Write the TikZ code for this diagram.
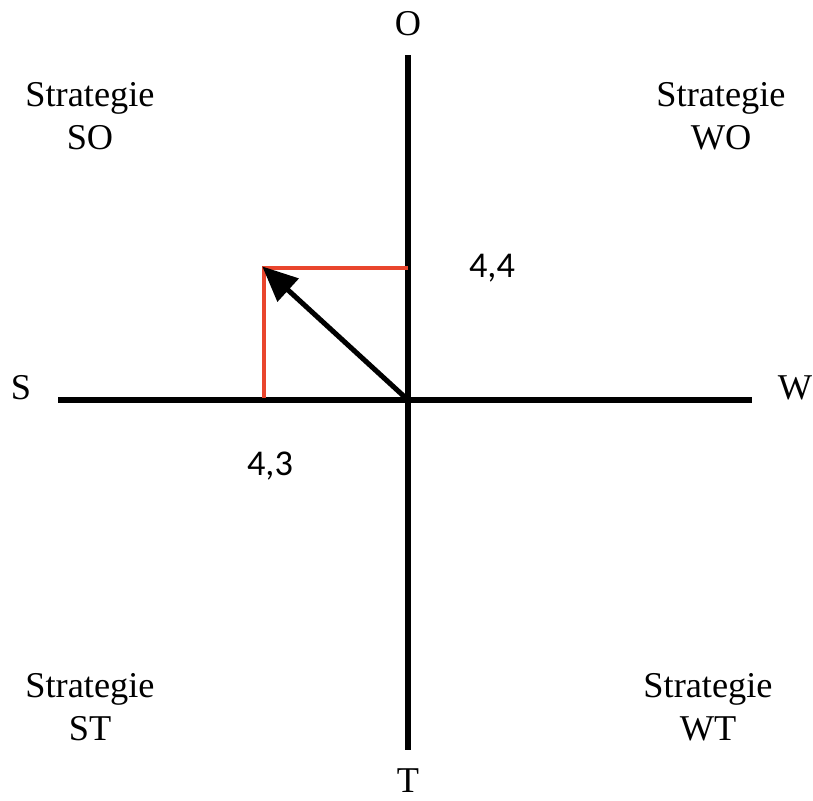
\documentclass[tikz,border=0pt]{standalone}
\usepackage{fontspec}
\setmainfont{Liberation Serif}
\newfontfamily\numfont{Carlito}
\usetikzlibrary{arrows.meta}
\definecolor{axisInk}{HTML}{000000}
\definecolor{marker}{HTML}{E9452D}

\begin{document}
\begin{tikzpicture}[
  x=0.03cm, y=-0.03cm,
  font=\fontsize{31}{37}\selectfont,
  axisLabel/.style={inner sep=0pt, anchor=center},
  strategy/.style={align=center, inner sep=0pt},
  value/.style={inner sep=0pt, font=\numfont\fontsize{31}{37}\selectfont},
  axisLine/.style={line width=4.3pt, draw=axisInk},
  markLine/.style={line width=3.8pt, draw=marker},
  vector/.style={-{Triangle[length=30pt,width=26pt]}, line width=4.3pt, draw=axisInk, shorten >=-2pt}
]

% Fix the 813 x 800 frame
\useasboundingbox (0,0) rectangle (813,800);

% Axis ends
\coordinate (top) at (408,55);
\coordinate (bottom) at (408,750);
\coordinate (left) at (58,400);
\coordinate (right) at (752,400);
\coordinate (origin) at (408,400);

% Axis letters
\node[axisLabel] (o) at (408,24) {O};
\node[axisLabel] (t) at (408,781) {T};
\node[axisLabel] (s) at (21,388) {S};
\node[axisLabel] (w) at (795,388) {W};

% Quadrant strategies
\node[strategy] (so) at (90,116) {Strategie\\SO};
\node[strategy] (wo) at (721,116) {Strategie\\WO};
\node[strategy] (st) at (90,707) {Strategie\\ST};
\node[strategy] (wt) at (708,707) {Strategie\\WT};

% Axes
\draw[axisLine] (top) -- (bottom);
\draw[axisLine] (left) -- (right);

% Position of the score
\coordinate (point) at (264,268);
\coordinate (foot) at (264,398);
\coordinate (onaxis) at (408,268);
\draw[markLine] (foot) -- (point) -- (onaxis);
\draw[vector] (origin) -- (point);

% Scores
\node[value] (scoreO) at (492,268) {4,4};
\node[value] (scoreS) at (270,466) {4,3};

\end{tikzpicture}
\end{document}
